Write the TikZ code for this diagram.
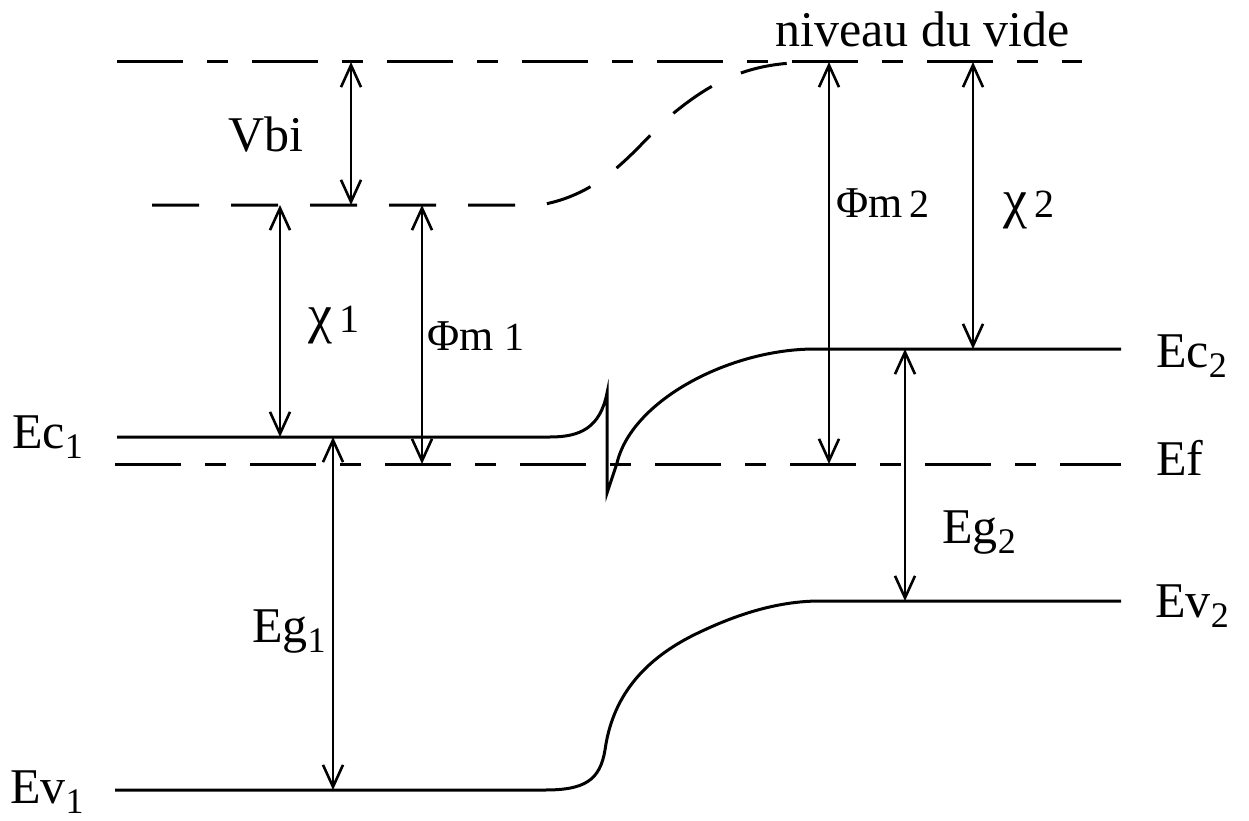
\documentclass[tikz,border=0pt]{standalone}
\usepackage{fontspec}
\setmainfont{Liberation Serif}
\usetikzlibrary{arrows.meta}
\newcommand\sbs[1]{\raisebox{-0.2em}{\fontsize{36}{36}\selectfont #1}}
\newcommand\sdig[1]{{\fontsize{40}{40}\selectfont #1}}
\newcommand\chisym{{\fontsize{54}{54}\selectfont χ}}
\begin{document}
\begin{tikzpicture}[x=1pt,y=-1pt,
  lvl/.style={line width=3pt},
  dashA/.style={line width=3pt, dash pattern=on 66pt off 24pt on 21pt off 24pt},
  dashB/.style={line width=3pt, dash pattern=on 47pt off 32pt},
  dim/.style={line width=2pt,
    {Straight Barb[length=22pt,width=20pt,line width=2.6pt]}-{Straight Barb[length=22pt,width=20pt,line width=2.6pt]}},
  lbl/.style={font=\fontsize{50}{60}\selectfont, inner sep=0pt, anchor=base west},
  glbl/.style={font=\fontsize{44}{50}\selectfont, inner sep=0pt, anchor=base west}]
\useasboundingbox (0,0) rectangle (1249,821);
% level coordinates
\coordinate (vacL) at (117,62);   \coordinate (vacR) at (1082,62);
\coordinate (vbL) at (152,205);   \coordinate (vbE) at (540,205);
\coordinate (vbJ) at (792,63);
\coordinate (ecL) at (117,437);   \coordinate (ecE) at (550,437);
\coordinate (spT) at (607,393);   \coordinate (spB) at (607,493);
\coordinate (ecS) at (617,463);   \coordinate (ecF) at (815,349);
\coordinate (ecR) at (1121,349);
\coordinate (efL) at (115,464);   \coordinate (efR) at (1121,464);
\coordinate (evL) at (115,790);   \coordinate (evE) at (545,790);
\coordinate (evM) at (605,750);   \coordinate (evN) at (700,632);
\coordinate (evF) at (820,601);   \coordinate (evR) at (1121,601);
% levels
\draw[dashA] (vacL) -- (vacR);
\draw[dashB] (vbL) -- (vbE) .. controls (610,193) and (640,140) .. (675,112)
   .. controls (712,82) and (745,66) .. (vbJ);
\draw[lvl,line join=miter] (ecL) -- (ecE) .. controls (580,437) and (600,428) .. (spT)
   -- (spB) -- (ecS) .. controls (632,400) and (730,349) .. (ecF) -- (ecR);
\draw[dashA] (efL) -- (efR);
\draw[lvl] (evL) -- (evE) .. controls (585,790) and (600,780) .. (evM)
   .. controls (612,700) and (640,660) .. (evN)
   .. controls (740,613) and (780,601) .. (evF) -- (evR);
% arrow end points
\coordinate (a1t) at (351,62);  \coordinate (a1b) at (351,205);
\coordinate (a2t) at (280,205); \coordinate (a2b) at (280,437);
\coordinate (a3t) at (422,205); \coordinate (a3b) at (422,464);
\coordinate (a4t) at (333,437); \coordinate (a4b) at (333,790);
\coordinate (a5t) at (829,62);  \coordinate (a5b) at (829,464);
\coordinate (a6t) at (973,62);  \coordinate (a6b) at (973,349);
\coordinate (a7t) at (905,349); \coordinate (a7b) at (905,601);
\draw[dim] (a1t) -- (a1b);
\draw[dim] (a2t) -- (a2b);
\draw[dim] (a3t) -- (a3b);
\draw[dim] (a4t) -- (a4b);
\draw[dim] (a5t) -- (a5b);
\draw[dim] (a6t) -- (a6b);
\draw[dim] (a7t) -- (a7b);
% labels
\node[lbl] (tvide) at (775,47) {niveau du vide};
\node[lbl] (tvbi) at (228,152) {Vbi};
\node[glbl] (tchi1) at (308,332) {\chisym\,\sdig{1}};
\node[glbl] (tphi1) at (427,350) {Φm \sdig{1}};
\node[glbl] (tphi2) at (836,217) {Φm\,\sdig{2}};
\node[glbl] (tchi2) at (1003,217) {\chisym\,\sdig{2}};
\node[lbl] (tec1) at (12,448) {Ec\sbs{1}};
\node[lbl] (tev1) at (10,803) {Ev\sbs{1}};
\node[lbl] (teg1) at (252,642) {Eg\sbs{1}};
\node[lbl] (teg2) at (942,543) {Eg\sbs{2}};
\node[lbl] (tec2) at (1156,367) {Ec\sbs{2}};
\node[lbl] (tef) at (1156,475) {Ef};
\node[lbl] (tev2) at (1155,617) {Ev\sbs{2}};
\end{tikzpicture}
\end{document}
